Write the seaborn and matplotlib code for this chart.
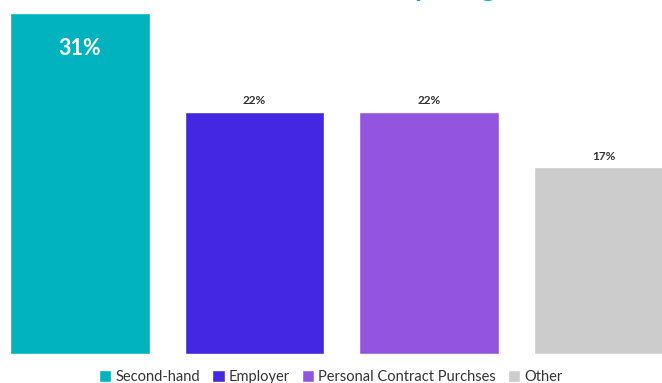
import matplotlib
matplotlib.use("Agg")
import matplotlib.pyplot as plt
import seaborn as sns
import pandas as pd

categories = ["Second-hand", "Employer", "Personal Contract Purchses", "Other"]
shares = [31, 22, 22, 17]
labels = ["31%", "22%", "22%", "17%"]
colors = ["#00B3BE", "#4327E3", "#9355E0", "#CCCCCC"]
title = "Car Sources Ranked by Origin"

sns.set_theme(style="white")
plt.rcParams["font.family"] = ["Lato", "DejaVu Sans"]

df = pd.DataFrame({"category": categories, "share": shares})

fig = plt.figure(figsize=(6.62, 3.83), dpi=100)
ax = fig.add_axes([0, 29 / 383, 1, 341 / 383])

sns.barplot(data=df, x="category", y="share", hue="category",
            palette=colors, width=0.8, dodge=False, ax=ax, legend=True,
            saturation=1)

ax.set_xlim(-0.458, 3.335)
ax.set_ylim(0, 31)
ax.axis("off")

for i, (v, lab) in enumerate(zip(shares, labels)):
    if i == 0:
        ax.text(i, v - 3.2, lab, ha="center", va="center", color="white",
                fontsize=15.5, fontweight="bold")
    else:
        ax.text(i, v + 0.5, lab, ha="center", va="bottom", color="#333333",
                fontsize=8.5, fontweight="bold")

handles, labs = ax.get_legend_handles_labels()
ax.get_legend().remove()
fig.legend(handles, labs, loc="lower center", bbox_to_anchor=(0.5, -0.036),
           ncol=4, frameon=False, fontsize=10.5, handlelength=0.85,
           handleheight=0.9, handletextpad=0.3, columnspacing=0.8,
           labelcolor="#333333")

# Title sits above the canvas so only its lowest strokes show
fig.text(0.482, 1 + 4 / 383, title, ha="center", va="baseline",
         color="#00B3BE", fontsize=22, fontweight="bold")

fig.savefig("out.png", dpi=100)
